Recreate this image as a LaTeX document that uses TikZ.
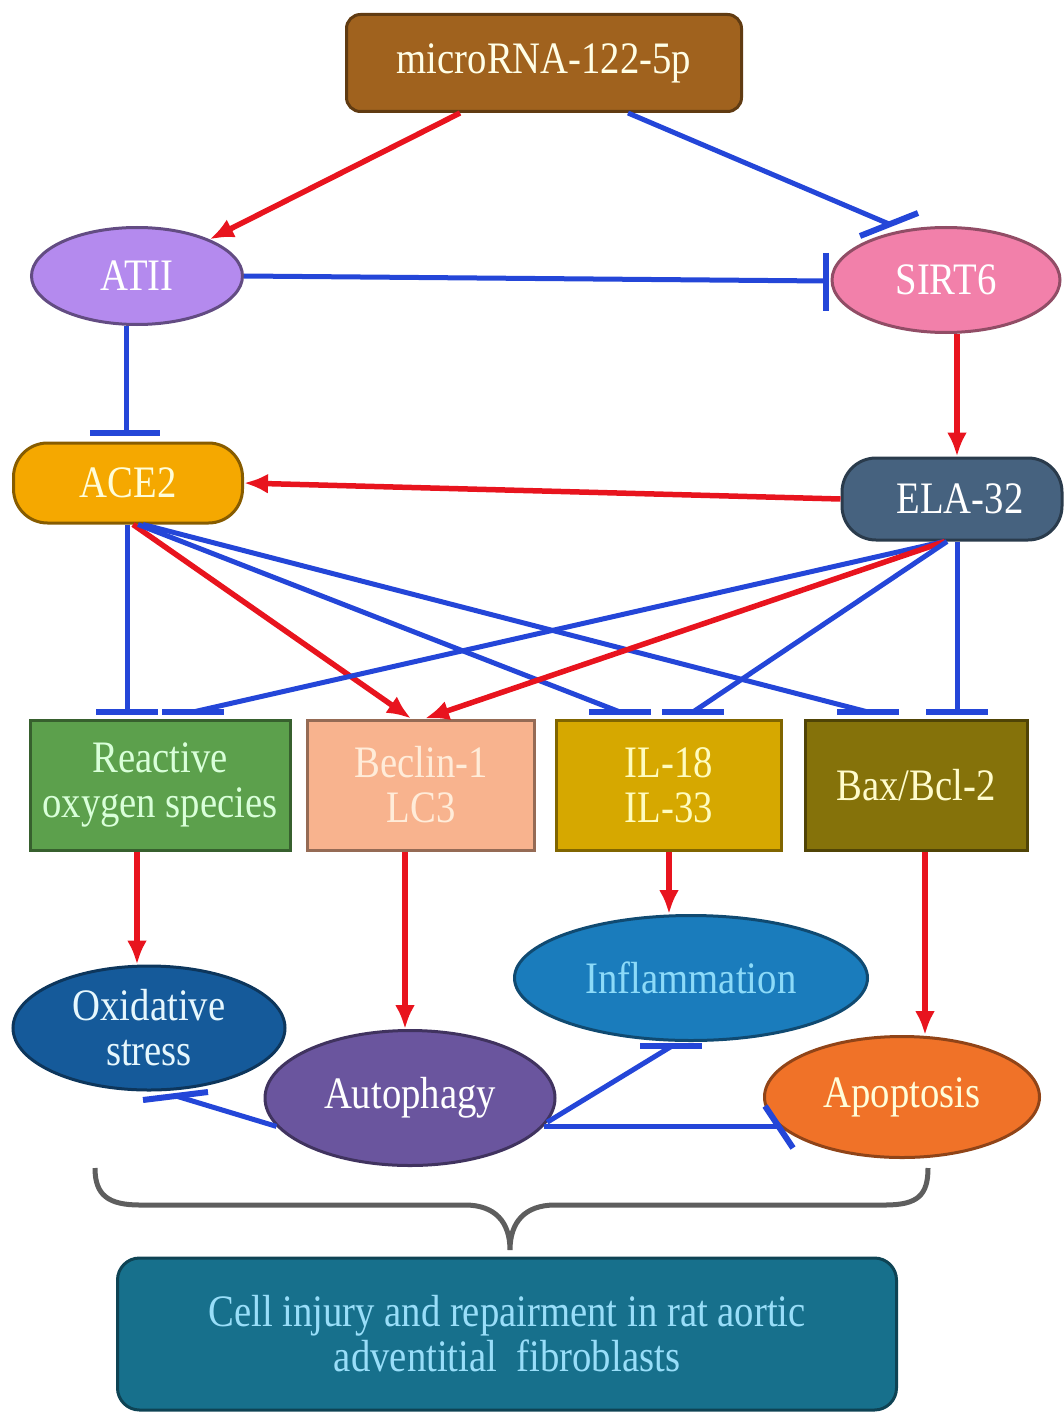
\documentclass[tikz,border=0pt]{standalone}
\usepackage{xcolor}
\usepackage{fontspec}
\setmainfont{Liberation Serif}[FakeStretch=0.86]
\usepackage{tikz}
\usetikzlibrary{shapes.geometric,arrows.meta}

\definecolor{mirnabrown}{HTML}{A0621E}
\definecolor{atiipurple}{HTML}{B48AEE}
\definecolor{sirtpink}{HTML}{F280AA}
\definecolor{aceorange}{HTML}{F5A800}
\definecolor{elaslate}{HTML}{46627F}
\definecolor{rosgreen}{HTML}{5CA04C}
\definecolor{becsalmon}{HTML}{F8B38E}
\definecolor{ilgold}{HTML}{D6A800}
\definecolor{baxolive}{HTML}{85720A}
\definecolor{oxiblue}{HTML}{155A9A}
\definecolor{inflblue}{HTML}{1A7CBC}
\definecolor{autoviolet}{HTML}{6A559E}
\definecolor{apoporange}{HTML}{F07228}
\definecolor{cellteal}{HTML}{17708C}
\definecolor{actred}{HTML}{E8141E}
\definecolor{inhblue}{HTML}{2446D8}
\definecolor{bracegrey}{HTML}{5E5E5E}

\tikzset{
  lbl/.style={font=\fontsize{45}{45}\selectfont, inner sep=0pt, align=center},
  rbox/.style={lbl, rectangle, line width=3pt},
  oval/.style={lbl, ellipse, line width=3pt},
  act/.style={draw=actred, line width=5.5pt, -{Latex[length=24pt,width=20pt]}},
  inhl/.style={draw=inhblue, line width=5pt},
  tbar/.style={draw=inhblue, line width=6pt}
}

\begin{document}
\begin{tikzpicture}[x=1pt,y=-1pt]
\useasboundingbox (0,0) rectangle (1064,1412);

%Nodes
\node[rbox, rounded corners=14pt, fill=mirnabrown, draw=mirnabrown!60!black, text=white!90!yellow,
  minimum width=395pt, minimum height=97pt] (mirna) at (544,63) {microRNA-122-5p};
\node[oval, fill=atiipurple, draw=atiipurple!55!black, text=white,
  minimum width=211pt, minimum height=97pt] (atii) at (137,276) {ATII};
\node[oval, fill=sirtpink, draw=sirtpink!60!black, text=white,
  minimum width=228pt, minimum height=105pt] (sirt) at (946,280) {SIRT6};
\node[rbox, rounded corners=34pt, fill=aceorange, draw=aceorange!55!black, text=white!85!yellow,
  minimum width=229pt, minimum height=80pt] (ace) at (128,483) {ACE2};
\node[rbox, rounded corners=34pt, fill=elaslate, draw=elaslate!60!black, text=white,
  minimum width=220pt, minimum height=82pt] (ela) at (952,499) {\hspace*{16pt}ELA-32};

\node[rbox, fill=rosgreen, draw=rosgreen!60!black, text=white!85!green,
  minimum width=260pt, minimum height=130pt] (ros) at (160,785) {Reactive\\oxygen species};
\node[rbox, fill=becsalmon, draw=becsalmon!60!black, text=white!85!orange,
  minimum width=227pt, minimum height=130pt] (bec) at (421,785) {Beclin-1\\LC3};
\node[rbox, fill=ilgold, draw=ilgold!60!black, text=white!75!yellow,
  minimum width=225pt, minimum height=130pt] (il) at (669,785) {IL-18\\IL-33};
\node[rbox, fill=baxolive, draw=baxolive!60!black, text=white!80!yellow,
  minimum width=222pt, minimum height=130pt] (bax) at (916,785) {Bax/Bcl-2};

\node[oval, fill=oxiblue, draw=oxiblue!60!black, text=white!90!cyan,
  minimum width=272pt, minimum height=124pt] (oxi) at (149,1028) {Oxidative\\stress};
\node[oval, fill=inflblue, draw=inflblue!60!black, text=cyan!45!white,
  minimum width=353pt, minimum height=125pt] (infl) at (691,978) {Inflammation};
\node[oval, fill=autoviolet, draw=autoviolet!60!black, text=white,
  minimum width=290pt, minimum height=135pt] (auto) at (410,1098) {Autophagy};
\node[oval, fill=apoporange, draw=apoporange!60!black, text=white!85!yellow,
  minimum width=275pt, minimum height=121pt] (apop) at (902,1097) {Apoptosis};

\node[rbox, rounded corners=22pt, fill=cellteal, draw=cellteal!60!black, text=cyan!40!white,
  minimum width=779pt, minimum height=152pt] (cell) at (507,1334)
  {Cell injury and repairment in rat aortic\\adventitial\ \ fibroblasts};

%Bar ends
\coordinate (sb) at (889,224);
\coordinate (ab) at (126,433);
\coordinate (tb) at (826,281);
\coordinate (r1) at (127,712);
\coordinate (r2) at (193,712);
\coordinate (i1) at (620,712);
\coordinate (i2) at (693,712);
\coordinate (x1) at (868,712);
\coordinate (x2) at (957,712);
\coordinate (o1) at (176,1096);
\coordinate (f1) at (672,1046);
\coordinate (a1) at (779,1126);

%Top part
\draw[act] ([xshift=-84pt]mirna.south) -- (atii);
\draw[inhl] ([xshift=84pt]mirna.south) -- (sb);
\draw[tbar] (860,236) -- (918,213);
\draw[inhl] (atii.east) -- (tb);
\draw[tbar] ([yshift=28pt]tb) -- ([yshift=-30pt]tb);
\draw[inhl] (atii.south -| ab) -- (ab);
\draw[tbar] ([xshift=-36pt]ab) -- ([xshift=34pt]ab);
\draw[act] ([xshift=11pt]sirt.south) -- ([xshift=5pt]ela.north);
\draw[act] (ela.west) -- (ace.east);

%ACE2 and ELA-32 to the four boxes
\draw[inhl] (r1 |- ace.south) -- (r1);
\draw[act] ([xshift=5pt]ace.south) -- ([xshift=-10pt]bec.north);
\draw[inhl] ([xshift=10pt]ace.south) -- (i1);
\draw[inhl] ([xshift=15pt]ace.south) -- (x1);
\draw[inhl] ([xshift=-8pt]ela.south) -- (r2);
\draw[act] ([xshift=-7pt]ela.south) -- ([xshift=4pt]bec.north);
\draw[inhl] ([xshift=-5pt]ela.south) -- (i2);
\draw[inhl] (x2 |- ela.south) -- (x2);
\foreach \c in {r1,r2,i1,i2,x1,x2}
  \draw[tbar] ([xshift=-31pt]\c) -- ([xshift=31pt]\c);

%Boxes to outcomes
\draw[act] ([xshift=-23pt]ros.south) -- ([xshift=-23pt]ros.south |- oxi.north);
\draw[act] ([xshift=-16pt]bec.south) -- ([xshift=-16pt]bec.south |- auto.north);
\draw[act] (il.south) -- (il.south |- infl.north);
\draw[act] ([xshift=9pt]bax.south) -- ([xshift=9pt]bax.south |- apop.north);

%Autophagy
\draw[inhl] (auto.192) -- (o1);
\draw[tbar] (143,1100) -- (208,1092);
\draw[inhl] (auto.-10) -- (f1);
\draw[tbar] ([xshift=-32pt]f1) -- ([xshift=30pt]f1);
\draw[inhl] (auto.-12) -- (auto.-12 -| a1);
\draw[tbar] (765,1106) -- (793,1148);

%Brace
\draw[bracegrey, line width=5pt] (95,1168) .. controls (95,1195) and (108,1205) .. (140,1205)
  -- (465,1205) .. controls (495,1205) and (510,1222) .. (510,1250)
  .. controls (510,1222) and (525,1205) .. (555,1205) -- (885,1205)
  .. controls (918,1205) and (928,1195) .. (928,1168);
\end{tikzpicture}
\end{document}
